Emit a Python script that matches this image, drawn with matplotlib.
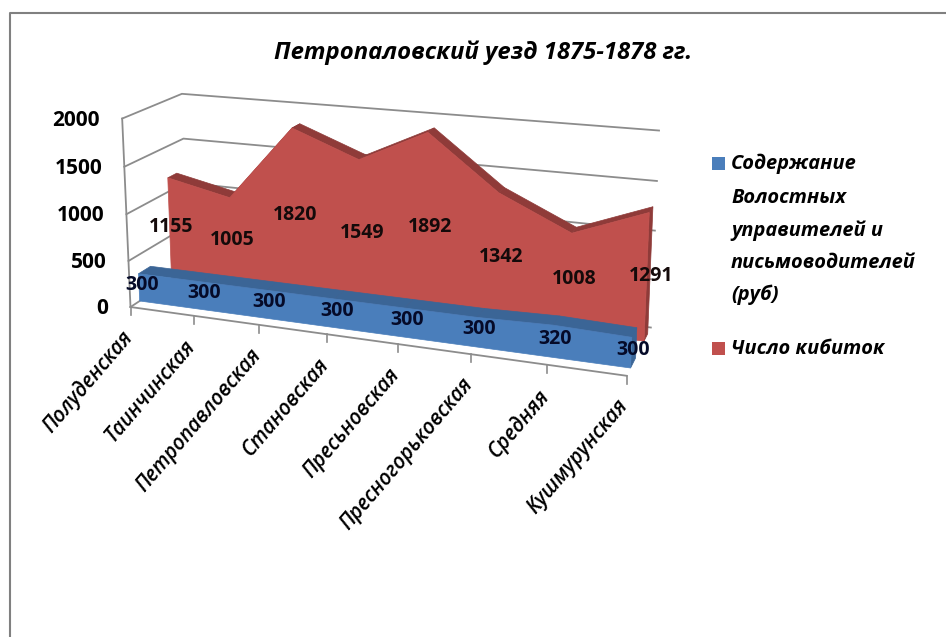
import numpy as np
import matplotlib
matplotlib.use('Agg')
import matplotlib.pyplot as plt
from matplotlib.patches import Polygon, Rectangle

title = 'Петропаловский уезд 1875-1878 гг.'
categories = ['Полуденская', 'Таинчинская', 'Петропавловская', 'Становская',
              'Пресьновская', 'Пресногорьковская', 'Средняя', 'Кушмурунская']
kibitki = [1155, 1005, 1820, 1549, 1892, 1342, 1008, 1291]
soderzhanie = [300, 300, 300, 300, 300, 300, 320, 300]
y_ticks = [0, 500, 1000, 1500, 2000]
legend_blue = ['Содержание', 'Волостных', 'управителей и', 'письмоводителей', '(руб)']
legend_red = 'Число кибиток'

BLUE, BLUE_TOP = '#4a7ebb', '#3b6596'
RED, RED_TOP = '#c0504d', '#8f3b39'
GRID = '#8c8c8c'
FONT = 'Open Sans'

# perspective camera fitted to the box corners: (category, depth, value) -> pixel
anchors = [
    (0, 0, 0, 131, 307), (1, 0, 0, 193, 316), (3, 0, 0, 327, 334),
    (5, 0, 0, 472, 355), (7, 0, 0, 626, 376), (0, 0, 2000, 122, 118),
    (0, 0, 1000, 127, 214), (0, 1, 2000, 182, 94), (0, 1, 1500, 183, 139),
    (7, 1, 2000, 659, 131), (7, 1, 1500, 657, 181), (7, 1, 1000, 655, 230),
    (7, 1, 0, 651, 327),
]


def fit_camera(points):
    rows, rhs = [], []
    for c, d, v, px, py in points:
        w = v / 2000
        rows.append([c, d, w, 1, 0, 0, 0, 0, -px * c, -px * d, -px * w])
        rhs.append(px)
        rows.append([0, 0, 0, 0, c, d, w, 1, -py * c, -py * d, -py * w])
        rhs.append(py)
    sol = np.linalg.lstsq(np.array(rows, float), np.array(rhs, float), rcond=None)[0]
    return np.append(sol, 1).reshape(3, 4)


CAM = fit_camera(anchors)


def proj(c, d, v):
    p = CAM @ np.array([c, d, v / 2000, 1.0])
    return p[0] / p[2], p[1] / p[2]


def draw_area(ax, values, d0, d1, front, top):
    n = len(values)
    # top band, going back from the front face
    for i in range(n - 1):
        ax.add_patch(Polygon([proj(i, d0, values[i]), proj(i + 1, d0, values[i + 1]),
                              proj(i + 1, d1, values[i + 1]), proj(i, d1, values[i])],
                             closed=True, fc=top, ec=top, lw=0.5, zorder=2))
    # right end
    ax.add_patch(Polygon([proj(n - 1, d0, 0), proj(n - 1, d1, 0),
                          proj(n - 1, d1, values[-1]), proj(n - 1, d0, values[-1])],
                         closed=True, fc=top, ec=top, lw=0.5, zorder=2))
    pts = [proj(i, d0, values[i]) for i in range(n)]
    pts += [proj(n - 1, d0, 0), proj(0, d0, 0)]
    ax.add_patch(Polygon(pts, closed=True, fc=front, ec=front, lw=0.5, zorder=2))


def main():
    fig = plt.figure(figsize=(9.46, 6.37), dpi=100)
    ax = fig.add_axes([0, 0, 1, 1])
    ax.set_xlim(0, 946)
    ax.set_ylim(637, 0)
    ax.axis('off')
    n = len(categories)

    # chart frame, only top and left are inside the crop
    ax.plot([10, 10, 946], [637, 13, 13], color='#808080', lw=1.5, zorder=1)

    # walls
    for v in y_ticks:
        a, b, c = proj(0, 0, v), proj(0, 1, v), proj(n - 1, 1, v)
        ax.plot([a[0], b[0], c[0]], [a[1], b[1], c[1]], color=GRID, lw=1.3, zorder=1)
    a, b = proj(0, 0, 0), proj(0, 0, 2000)
    ax.plot([a[0], b[0]], [a[1], b[1]], color=GRID, lw=1.3, zorder=1)

    # floor front edge and category ticks
    a, b = proj(0, 0, 0), proj(n - 1, 0, 0)
    ax.plot([a[0], b[0]], [a[1], b[1]], color=GRID, lw=1.3, zorder=1)
    for i in range(n):
        x, y = proj(i, 0, 0)
        ax.plot([x, x], [y, y + 8], color=GRID, lw=1.2, zorder=1)

    draw_area(ax, kibitki, 0.70, 0.86, RED, RED_TOP)
    draw_area(ax, soderzhanie, 0.15, 0.35, BLUE, BLUE_TOP)

    # value axis labels
    for v in y_ticks:
        x, y = proj(0, 0, v)
        ax.text(x - 22, y + 1.5, str(v), ha='right', va='center', fontsize=15,
                fontweight='bold', family=FONT, color='black')

    # category labels
    for i, name in enumerate(categories):
        x, y = proj(i, 0, 0)
        ax.text(x - 10, y + 20, name, rotation=49.5, rotation_mode='anchor', ha='right',
                va='top', fontsize=14.8, fontstyle='italic', fontweight='semibold',
                family=FONT, color='black')

    # data labels
    for i, v in enumerate(kibitki):
        x, y = proj(i, 0.62, v * 0.42 + 150)
        ax.text(x + 6, y, str(v), ha='center', va='center', fontsize=14,
                fontweight='bold', family=FONT, color='#140a0a')
    for i, v in enumerate(soderzhanie):
        x, y = proj(i, 0.18, 165)
        ax.text(x + 1, y, str(v), ha='center', va='center', fontsize=14,
                fontweight='bold', family=FONT, color='#050a28')

    # title
    ax.text(483, 53, title, ha='center', va='center', fontsize=17.2,
            fontstyle='italic', fontweight='bold', family=FONT, color='black')

    # legend
    ax.add_patch(Rectangle((712, 157), 13, 13, fc=BLUE, ec='none'))
    for line, y in zip(legend_blue, [164, 198, 231, 263, 295]):
        ax.text(731, y, line, ha='left', va='center', fontsize=14.4,
                fontstyle='italic', fontweight='bold', family=FONT, color='black')
    ax.add_patch(Rectangle((712, 342), 13, 13, fc=RED, ec='none'))
    ax.text(731, 349, legend_red, ha='left', va='center', fontsize=14.4,
            fontstyle='italic', fontweight='bold', family=FONT, color='black')

    fig.savefig('out.png', dpi=100)


if __name__ == '__main__':
    main()
